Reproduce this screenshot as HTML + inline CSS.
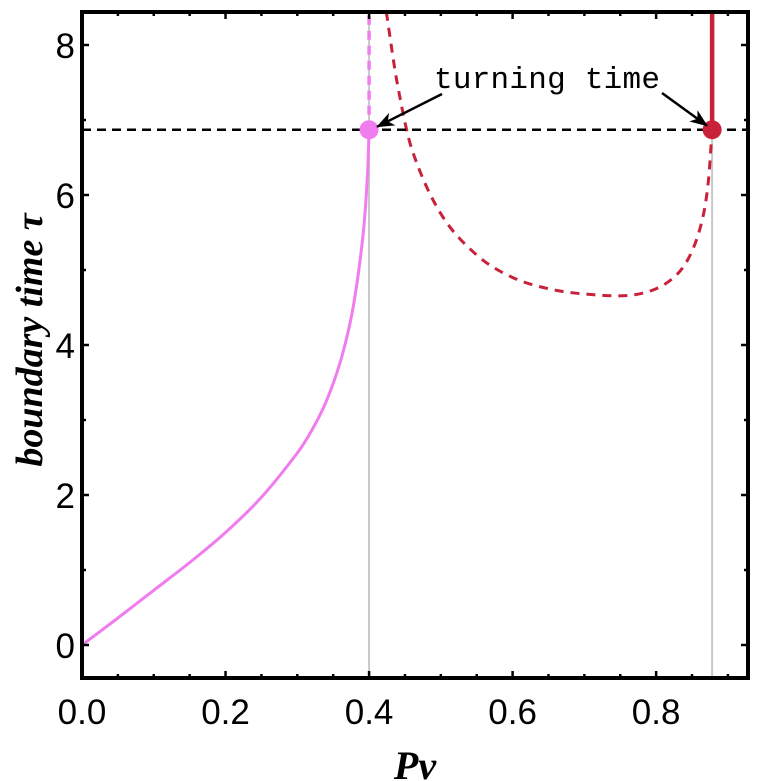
<!DOCTYPE html>
<html><head><meta charset="utf-8"><style>
html,body{margin:0;padding:0;background:#fff;width:758px;height:781px;overflow:hidden}
text{font-family:"Liberation Sans",sans-serif}
</style></head><body>
<svg id="chart" width="758" height="781" viewBox="0 0 758 781" xmlns="http://www.w3.org/2000/svg"></svg>
<script>
const xTicks=[0,0.2,0.4,0.6,0.8];
const xTickLabels=["0.0","0.2","0.4","0.6","0.8"];
const yTicks=[0,2,4,6,8];
const yTickLabels=["0","2","4","6","8"];
const pinkX=[0,0.05,0.1,0.15,0.2,0.25,0.3,0.32,0.34,0.36,0.375,0.385,0.393,0.398,0.4];
const pinkY=[0,0.36,0.73,1.1,1.5,1.97,2.56,2.86,3.24,3.78,4.36,4.95,5.6,6.3,6.87];
const redX=[0.424,0.44,0.46,0.5,0.55,0.6,0.65,0.7,0.76,0.8,0.83,0.85,0.865,0.873,0.878];
const redY=[8.44,7.45,6.6,5.75,5.2,4.9,4.75,4.68,4.66,4.75,4.95,5.25,5.7,6.2,6.87];
const turnTime=6.87;
const turnX=[0.4,0.878];

const L=82,R=748,T=12,B=678;
const xmin=0,xmax=0.928,ymin=-0.44,ymax=8.44;
const sx=v=>L+(v-xmin)/(xmax-xmin)*(R-L);
const sy=v=>B-(v-ymin)/(ymax-ymin)*(B-T);
const svg=document.getElementById('chart');
const NS="http://www.w3.org/2000/svg";
function mk(tag,attrs,parent){const e=document.createElementNS(NS,tag);for(const k in attrs)e.setAttribute(k,attrs[k]);(parent||svg).appendChild(e);return e;}
function smooth(xs,ys){const P=xs.map((v,i)=>[sx(v),sy(ys[i])]);const n=P.length;
const m=P.map((p,i)=>{const a=P[Math.max(i-1,0)],b=P[Math.min(i+1,n-1)];return (b[1]-a[1])/(b[0]-a[0]);});
let d='M'+P[0][0].toFixed(1)+','+P[0][1].toFixed(1);
for(let i=0;i<n-1;i++){const p1=P[i],p2=P[i+1],h=(p2[0]-p1[0])/3;
d+=' C'+(p1[0]+h).toFixed(1)+','+(p1[1]+m[i]*h).toFixed(1)+' '+(p2[0]-h).toFixed(1)+','+(p2[1]-m[i+1]*h).toFixed(1)+' '+p2[0].toFixed(1)+','+p2[1].toFixed(1);}
return d;}
const defs=mk('defs',{});
const cp=mk('clipPath',{id:'clip'},defs);mk('rect',{x:L,y:T,width:R-L,height:B-T},cp);
const mkr=mk('marker',{id:'arr',markerWidth:18,markerHeight:14,refX:17,refY:7,orient:'auto',markerUnits:'userSpaceOnUse'},defs);
mk('path',{d:'M0,0 L18,7 L0,14 L5,7 Z',fill:'#000'},mkr);
const g=mk('g',{'clip-path':'url(#clip)'});

turnX.forEach(v=>{const l=mk('line',{x1:sx(v),x2:sx(v),y1:T,y2:B,stroke:'#c8c8c8','stroke-width':2},g);

});
let p=mk('path',{d:smooth(pinkX,pinkY),fill:'none',stroke:'#f07cf0','stroke-width':3},g);


p=mk('line',{x1:sx(turnX[0]),x2:sx(turnX[0]),y1:sy(turnTime),y2:T,stroke:'#f07cf0','stroke-width':3.5,'stroke-dasharray':'9,6'},g);


p=mk('path',{d:smooth(redX,redY),fill:'none',stroke:'#c8223a','stroke-width':3,'stroke-dasharray':'9,7'},g);


p=mk('line',{x1:sx(turnX[1]),x2:sx(turnX[1]),y1:sy(turnTime),y2:T,stroke:'#c8223a','stroke-width':4.5},g);


p=mk('line',{x1:L,x2:R,y1:sy(turnTime),y2:sy(turnTime),stroke:'#000','stroke-width':2.5,'stroke-dasharray':'9,6'},g);


p=mk('circle',{cx:sx(turnX[0]),cy:sy(turnTime),r:9.5,fill:'#f07cf0'});


p=mk('circle',{cx:sx(turnX[1]),cy:sy(turnTime),r:9.5,fill:'#c8223a'});



p=mk('rect',{x:L,y:T,width:R-L,height:B-T,fill:'none',stroke:'#000','stroke-width':4});


for(let k=0;k<=18;k++){const v=k*0.05;const big=k%4===0;const len=big?7:4;
mk('line',{x1:sx(v),x2:sx(v),y1:B,y2:B-len,stroke:'#000','stroke-width':2.5});mk('line',{x1:sx(v),x2:sx(v),y1:T,y2:T+len,stroke:'#000','stroke-width':2.5});}
for(let v=0;v<=8;v+=1){const len=v%2===0?7:4;
mk('line',{x1:L,x2:L+len,y1:sy(v),y2:sy(v),stroke:'#000','stroke-width':2.5});mk('line',{x1:R,x2:R-len,y1:sy(v),y2:sy(v),stroke:'#000','stroke-width':2.5});}
xTicks.forEach((v,i)=>{const t=mk('text',{x:sx(v),y:724,'text-anchor':'middle','font-size':35});t.textContent=xTickLabels[i];

});
yTicks.forEach((v,i)=>{const t=mk('text',{x:75,y:sy(v)+13,'text-anchor':'end','font-size':35});t.textContent=yTickLabels[i];

});
let t=mk('text',{x:415,y:779,'text-anchor':'middle','font-size':40,'font-style':'italic','font-weight':'bold',style:'font-family:"Liberation Serif",serif'});t.textContent='Pv';


t=mk('text',{x:0,y:0,transform:'translate(42,340) rotate(-90)','text-anchor':'middle','font-size':38,'font-style':'italic','font-weight':'bold',style:'font-family:"Liberation Serif",serif'});t.textContent='boundary time  τ';


t=mk('text',{x:547,y:88,'text-anchor':'middle','font-size':31,textLength:226,style:'font-family:"Liberation Mono",monospace'});t.textContent='turning time';


p=mk('line',{x1:442,y1:94,x2:sx(turnX[0])+8,y2:sy(turnTime)-3,stroke:'#000','stroke-width':2.5,'marker-end':'url(#arr)'});


p=mk('line',{x1:662,y1:93,x2:sx(turnX[1])-5,y2:sy(turnTime)-4,stroke:'#000','stroke-width':2.5,'marker-end':'url(#arr)'});


</script>
</body></html>
